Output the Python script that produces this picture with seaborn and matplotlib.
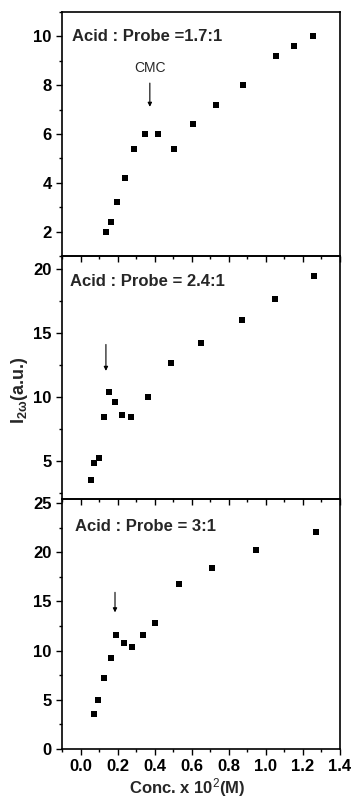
import matplotlib
matplotlib.use("Agg")
import matplotlib.pyplot as plt
import pandas as pd
import seaborn as sns
from matplotlib.ticker import MultipleLocator

# Panel 1: Acid : Probe = 1.7:1
conc_1 = [0.136, 0.165, 0.197, 0.24, 0.29, 0.347, 0.418, 0.505, 0.606, 0.729, 0.877, 1.056, 1.154, 1.257]
shg_1 = [2.0, 2.4, 3.2, 4.2, 5.4, 6.0, 6.0, 5.4, 6.4, 7.2, 8.0, 9.2, 9.6, 10.0]

# Panel 2: Acid : Probe = 2.4:1
conc_2 = [0.056, 0.072, 0.098, 0.128, 0.156, 0.186, 0.226, 0.273, 0.365, 0.487, 0.651, 0.872, 1.049, 1.259]
shg_2 = [3.5, 4.8, 5.2, 8.4, 10.4, 9.6, 8.6, 8.4, 10.0, 12.6, 14.2, 16.0, 17.6, 19.4]

# Panel 3: Acid : Probe = 3:1
conc_3 = [0.072, 0.094, 0.125, 0.165, 0.194, 0.233, 0.28, 0.335, 0.4, 0.533, 0.71, 0.948, 1.268]
shg_3 = [3.6, 5.0, 7.2, 9.2, 11.6, 10.8, 10.4, 11.6, 12.8, 16.8, 18.4, 20.2, 22.0]

titles = ["Acid : Probe =1.7:1", "Acid : Probe = 2.4:1", "Acid : Probe = 3:1"]
cmc_conc = [0.374, 0.137, 0.186]


def main() -> None:
    sns.set_style("ticks")
    plt.rcParams["font.family"] = ["Liberation Sans", "DejaVu Sans"]
    plt.rcParams["mathtext.fontset"] = "custom"
    plt.rcParams["mathtext.rm"] = "Liberation Sans"
    plt.rcParams["mathtext.bf"] = "Liberation Sans:bold"
    plt.rcParams["mathtext.it"] = "Liberation Sans:italic"

    fig = plt.figure(figsize=(3.59, 8.0), dpi=100)
    left, width = 62 / 359, (340 - 62) / 359
    bounds = [(12, 256), (256, 499), (499, 749)]
    ylims = [(1, 11), (2, 21), (0, 25.4)]
    ymajor = [2, 5, 5]
    yminor = [1, 2.5, 2.5]
    datasets = [(conc_1, shg_1), (conc_2, shg_2), (conc_3, shg_3)]
    title_pos = [(-0.045, 10.0), (-0.055, 19.0), (-0.03, 22.6)]
    arrows = [(8.2, 7.0), (14.3, 11.8), (16.2, 13.6)]

    axes = []
    for i, ((top, bot), (xs, ys)) in enumerate(zip(bounds, datasets)):
        ax = fig.add_axes([left, 1 - bot / 800, width, (bot - top) / 800])
        ax.set_facecolor("none")
        df = pd.DataFrame({"conc": xs, "shg": ys})
        sns.scatterplot(data=df, x="conc", y="shg", ax=ax, marker="s", s=16,
                        color="black", edgecolor="black", linewidth=0)
        ax.set_xlim(-0.1, 1.4)
        ax.set_ylim(*ylims[i])
        ax.xaxis.set_major_locator(MultipleLocator(0.2))
        ax.xaxis.set_minor_locator(MultipleLocator(0.1))
        ax.yaxis.set_major_locator(MultipleLocator(ymajor[i]))
        ax.yaxis.set_minor_locator(MultipleLocator(yminor[i]))
        if i == 1:
            ax.set_yticks([5, 10, 15, 20])
            ax.set_ylim(*ylims[i])
        ax.tick_params(which="both", direction="out", width=1.0, colors="black",
                       top=False, right=False)
        ax.tick_params(which="major", length=4, labelsize=12)
        ax.tick_params(which="minor", length=2.5)
        for lab in ax.get_yticklabels() + ax.get_xticklabels():
            lab.set_fontweight("bold")
        for sp in ax.spines.values():
            sp.set_linewidth(1.2)
            sp.set_color("black")
        ax.set_xlabel("")
        ax.set_ylabel("")
        if i < 2:
            ax.tick_params(labelbottom=False)
        tx, ty = title_pos[i]
        ax.text(tx, ty, titles[i], fontsize=12, fontweight="bold", va="center", ha="left")
        a0, a1 = arrows[i]
        ax.annotate("", xy=(cmc_conc[i], a1), xytext=(cmc_conc[i], a0),
                    arrowprops=dict(arrowstyle="-|>", color="black", lw=0.8,
                                    mutation_scale=6))
        axes.append(ax)

    axes[0].text(cmc_conc[0], 8.7, "CMC", fontsize=10, ha="center", va="center")

    axes[2].set_xlabel(r"Conc. x 10$^{2}$(M)", fontsize=12, fontweight="bold")
    axes[2].xaxis.set_label_coords(0.45, -0.108)
    fig.text(0.055, 1 - 390 / 800, r"$\mathbf{I}_{\mathbf{2\omega}}$(a.u.)", rotation=90,
             fontsize=13, fontweight="bold", ha="center", va="center")

    fig.savefig("out.png", dpi=100)
    plt.close(fig)


if __name__ == "__main__":
    main()
